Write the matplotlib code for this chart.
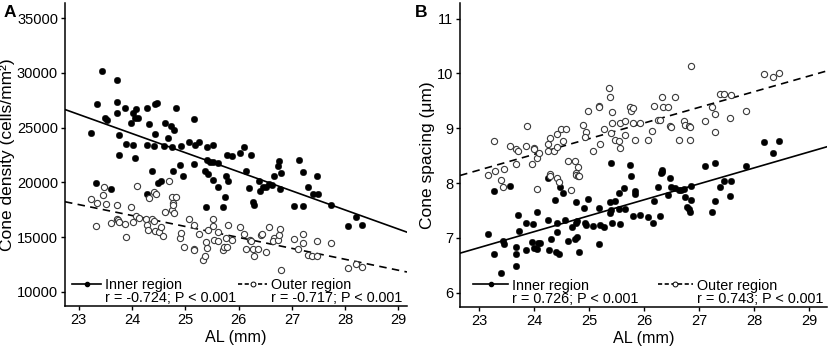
import numpy as np
import matplotlib
matplotlib.use('Agg')
import matplotlib.pyplot as plt
from matplotlib.lines import Line2D

plt.rcParams['font.family'] = ['Liberation Sans', 'DejaVu Sans']

# ---- Panel A: cone density vs axial length ----
a_inner_al = [23.22, 23.44, 23.35, 23.50, 23.52, 23.71, 23.72, 23.71, 23.76, 23.75,
              23.86, 23.89, 24.02, 24.05, 23.98, 24.02, 24.08, 24.05, 24.12, 24.28,
              24.31, 24.28, 24.43, 24.46, 24.43, 24.41, 24.37, 24.60, 24.62, 24.67,
              24.73, 24.78, 24.75, 24.82, 24.89, 24.92, 24.76, 24.96, 25.06, 25.16,
              25.17, 25.18, 25.25, 25.37, 25.41, 25.40, 25.46, 25.52, 25.52, 25.61,
              25.77, 25.78, 25.87, 26.02, 26.10, 26.14, 26.24, 26.66, 26.73, 26.76,
              26.79, 27.13, 27.21, 27.48, 23.33, 23.60, 24.28, 24.49, 24.54, 25.43,
              25.52, 25.39, 25.61, 25.71, 25.74, 25.80, 26.19, 26.27, 26.28, 26.38,
              26.41, 26.46, 26.52, 26.57, 26.63, 26.77, 27.03, 27.21, 27.31, 27.39,
              27.49, 27.73, 28.06, 28.21, 28.31]
a_inner_val = [24550, 30200, 27150, 25900, 25700, 29300, 27330, 26300, 24300, 22490,
               26760, 23490, 23420, 22180, 25450, 26360, 26730, 25850, 25910, 26820,
               25300, 23400, 27180, 27210, 24400, 23330, 21000, 23330, 25450, 24090,
               25150, 24790, 23240, 26820, 21600, 23330, 21060, 20600, 23700, 25820,
               21660, 23400, 23640, 21060, 23240, 22000, 21880, 23420, 21880, 21760,
               20600, 22490, 22430, 22670, 23210, 21060, 22520, 20600, 21450, 21970,
               20850, 22000, 20910, 20540, 19910, 19390, 18930, 19910, 20120, 20760,
               20210, 17710, 19600, 17770, 18690, 20150, 19510, 18230, 17930, 20120,
               19200, 19600, 19600, 19850, 19760, 19360, 17830, 17830, 19540, 18930,
               18930, 17930, 16000, 16800, 16100]

a_outer_al = [23.22, 23.32, 23.35, 23.46, 23.48, 23.51, 23.60, 23.71, 23.72, 23.74,
              23.75, 23.86, 23.89, 23.98, 24.02, 24.08, 24.09, 24.13, 24.27, 24.28,
              24.30, 24.32, 24.38, 24.42, 24.41, 24.44, 24.43, 24.50, 24.54, 24.58,
              24.62, 24.69, 24.74, 24.74, 24.82, 24.76, 24.77, 24.79, 24.89, 24.92,
              24.98, 25.06, 25.17, 25.16, 25.17, 25.25, 25.34, 25.37, 25.39, 25.41,
              25.43, 25.51, 25.52, 25.53, 25.61, 25.62, 25.70, 25.72, 25.76, 25.78,
              25.80, 25.87, 26.02, 26.10, 26.14, 26.21, 26.24, 26.27, 26.28, 26.36,
              26.42, 26.44, 26.51, 26.57, 26.66, 26.64, 26.73, 26.76, 26.77, 26.79,
              27.03, 27.12, 27.21, 27.21, 27.31, 27.38, 27.48, 27.48, 27.73, 28.06,
              28.21, 28.31]
a_outer_val = [18440, 16000, 18080, 18840, 19600, 17990, 16250, 17930, 16700, 16550,
               16400, 16190, 15030, 17710, 16400, 16920, 19660, 16770, 16700, 16100,
               15640, 18540, 16610, 16490, 19150, 18930, 15550, 15490, 15880, 15120,
               17320, 20120, 17470, 18690, 18690, 18080, 17930, 17160, 14880, 15390,
               14110, 16700, 16100, 13960, 13810, 15270, 12950, 13260, 14570, 14050,
               15640, 16040, 16700, 14730, 14630, 15490, 13810, 14110, 14880, 14110,
               16100, 14730, 15940, 15270, 13960, 14730, 14630, 13960, 13260, 13960,
               15180, 15270, 13660, 15940, 14880, 14660, 14730, 15180, 15700, 11980,
               14820, 13960, 15330, 14420, 13350, 13260, 14630, 13260, 14480, 12190,
               12590, 12280]

# regression lines (intercept, slope)
a_inner_fit = (66309, -1744)
a_outer_fit = (40947, -999)
a_stats = ['r = -0.724; P < 0.001', 'r = -0.717; P < 0.001']

# ---- Panel B: cone spacing vs axial length ----
b_inner_al = [23.15, 23.27, 23.26, 23.39, 23.43, 23.44, 23.55, 23.70, 23.72, 23.67,
              23.67, 23.67, 23.84, 23.85, 23.95, 23.98, 23.99, 24.04, 24.04, 24.06,
              24.11, 24.24, 24.25, 24.26, 24.30, 24.37, 24.42, 24.41, 24.40, 24.44,
              24.47, 24.52, 24.56, 24.61, 24.68, 24.73, 24.78, 24.76, 24.76, 24.78,
              24.82, 24.90, 24.92, 24.93, 24.97, 25.07, 25.17, 25.17, 25.19, 25.26,
              25.37, 25.39, 25.38, 25.41, 25.47, 25.54, 25.55, 25.54, 25.62, 25.64,
              25.75, 25.79, 25.82, 25.82, 25.92, 26.06, 26.15, 26.18, 26.24, 26.29,
              26.30, 26.43, 26.46, 26.49, 26.56, 26.62, 26.67, 26.72, 26.73, 26.78,
              26.81, 26.82, 26.84, 26.85, 27.22, 27.29, 27.38, 27.45, 27.56, 27.58,
              25.39, 25.73, 26.32, 26.32, 27.11, 27.29, 27.84, 28.17, 28.33, 28.44]
b_inner_val = [7.07, 6.71, 7.85, 6.36, 6.94, 6.89, 7.94, 7.41, 7.12, 6.84,
               6.71, 6.48, 6.78, 7.28, 6.93, 7.25, 6.82, 6.80, 7.47, 6.90,
               6.90, 8.09, 7.32, 6.77, 6.98, 7.69, 7.28, 7.10, 6.74, 6.71,
               7.93, 7.82, 7.33, 6.95, 7.19, 6.98, 7.02, 7.65, 7.28, 7.30,
               6.75, 7.55, 7.28, 7.24, 7.71, 7.21, 7.54, 6.89, 7.24, 7.19,
               7.45, 7.51, 7.65, 7.27, 7.68, 7.81, 7.25, 7.53, 7.91, 7.53,
               8.12, 7.39, 7.85, 7.80, 7.42, 7.38, 7.27, 7.67, 7.93, 7.39,
               8.19, 7.79, 8.10, 7.93, 7.91, 7.88, 7.88, 7.89, 7.75, 7.56,
               7.52, 7.48, 7.95, 7.69, 7.48, 7.67, 7.92, 8.03, 7.76, 8.04,
               8.37, 8.32, 8.23, 8.20, 8.31, 8.37, 8.31, 8.74, 8.55, 8.76]

b_outer_al = [23.15, 23.28, 23.26, 23.39, 23.44, 23.55, 23.67, 23.67, 23.70, 23.84,
              23.87, 23.96, 24.00, 24.00, 24.04, 24.08, 24.25, 24.25, 24.28, 24.36,
              24.28, 24.29, 24.41, 24.42, 24.48, 24.52, 24.58, 24.61, 24.73, 24.76,
              24.76, 24.79, 24.82, 24.79, 24.88, 24.93, 24.92, 24.98, 25.07, 25.17,
              25.17, 25.19, 25.26, 25.36, 25.38, 25.39, 25.41, 25.41, 25.46, 25.53,
              25.55, 25.55, 25.64, 25.64, 25.73, 25.76, 25.79, 25.79, 25.82, 25.92,
              26.06, 26.14, 26.18, 26.24, 26.28, 26.32, 26.33, 26.43, 26.46, 26.48,
              26.56, 26.62, 26.72, 26.73, 26.81, 26.82, 26.82, 26.85, 27.11, 27.22,
              27.29, 27.28, 27.37, 27.45, 27.56, 27.58, 27.84, 28.17, 28.33, 28.44,
              23.43, 24.05, 24.41, 24.44, 24.67]
b_outer_val = [8.15, 8.22, 8.76, 8.05, 8.26, 8.68, 8.34, 8.62, 8.58, 8.68,
               9.04, 8.34, 8.64, 8.62, 8.46, 8.54, 8.58, 8.72, 8.83, 8.59,
               8.17, 8.13, 8.90, 8.66, 8.98, 8.77, 8.98, 8.40, 8.40, 8.19,
               8.15, 8.13, 8.12, 8.29, 9.05, 8.93, 8.84, 9.31, 8.59, 9.41,
               9.39, 8.72, 8.98, 9.74, 9.56, 8.91, 9.30, 9.10, 8.78, 8.77,
               9.10, 8.63, 9.13, 8.87, 9.39, 9.32, 9.36, 9.09, 8.79, 9.10,
               8.79, 8.95, 9.41, 9.15, 9.15, 9.57, 9.38, 9.39, 9.04, 9.02,
               9.56, 8.78, 9.13, 9.05, 9.04, 9.02, 8.79, 10.13, 9.13, 9.39,
               9.26, 8.93, 9.62, 9.63, 9.18, 9.60, 9.31, 9.99, 9.94, 10.00,
               7.92, 7.89, 8.09, 8.01, 7.88]

b_inner_fit = (0.13, 0.291)
b_outer_fit = (1.66, 0.286)
b_stats = ['r = 0.726; P < 0.001', 'r = 0.743; P < 0.001']

al_ticks = [23, 24, 25, 26, 27, 28, 29]


def draw_panel(ax, inner_x, inner_y, outer_x, outer_y, fit_in, fit_out, stats,
               xlim, ylim, yticks, ylabel, hlen, colspace, leg_x):
    ax.scatter(inner_x, inner_y, s=22, c='black', edgecolors='black', linewidths=0.3, zorder=3)
    ax.scatter(outer_x, outer_y, s=20, facecolors='white', edgecolors='#3a3a3a',
               linewidths=0.8, zorder=3)
    xs = np.array(xlim)
    ax.plot(xs, fit_in[0] + fit_in[1] * xs, color='black', lw=1.2, zorder=2)
    ax.plot(xs, fit_out[0] + fit_out[1] * xs, color='black', lw=1.2,
            dashes=(4.5, 3.2), zorder=2)
    ax.set_xlim(xlim)
    ax.set_ylim(ylim)
    ax.set_xticks(al_ticks)
    ax.set_yticks(yticks)
    ax.set_xlabel('AL (mm)', fontsize=11.6, labelpad=2)
    ax.set_ylabel(ylabel, fontsize=12.5, labelpad=1.5)
    ax.tick_params(labelsize=10.5, direction='out', length=3, width=1, pad=2)
    for s in ['top', 'right']:
        ax.spines[s].set_visible(False)
    for s in ['left', 'bottom']:
        ax.spines[s].set_linewidth(1.1)

    h_in = Line2D([], [], color='black', lw=1.2, marker='o', markersize=3)
    h_out = Line2D([], [], color='black', lw=1.2, dashes=(2.5, 1.5), marker='o',
                   markersize=3.5, markerfacecolor='white', markeredgewidth=0.7)
    h_none = Line2D([], [], color='none')
    ax.legend([h_in, h_none, h_out, h_none],
              ['Inner region', stats[0], 'Outer region', stats[1]],
              ncol=2, loc='lower left', bbox_to_anchor=(leg_x, -0.02), frameon=False,
              fontsize=10.4, handlelength=hlen, handletextpad=0.3,
              columnspacing=colspace, labelspacing=-0.05, borderpad=0.2,
              borderaxespad=0.3)


fig = plt.figure(figsize=(8.29, 3.52), dpi=100)
ax1 = fig.add_axes([0.0784, 0.130, 0.4125, 0.861])
ax2 = fig.add_axes([0.555, 0.128, 0.4427, 0.863])

draw_panel(ax1, a_inner_al, a_inner_val, a_outer_al, a_outer_val,
           a_inner_fit, a_outer_fit, a_stats, (22.74, 29.16), (8690, 36360),
           [10000, 15000, 20000, 25000, 30000, 35000],
           'Cone density (cells/mm\u00b2)', 2.0, 0.1, 0.0)
draw_panel(ax2, b_inner_al, b_inner_val, b_outer_al, b_outer_val,
           b_inner_fit, b_outer_fit, b_stats, (22.65, 29.32), (5.74, 11.28),
           [6, 7, 8, 9, 10, 11], 'Cone spacing (\u03bcm)', 2.4, 1.33, 0.016)

fig.text(0.004, 0.985, 'A', fontsize=12.5, fontweight='bold', va='top', ha='left')
fig.text(0.50, 0.985, 'B', fontsize=12.5, fontweight='bold', va='top', ha='left')

plt.savefig('out.png', dpi=100)
plt.close(fig)
